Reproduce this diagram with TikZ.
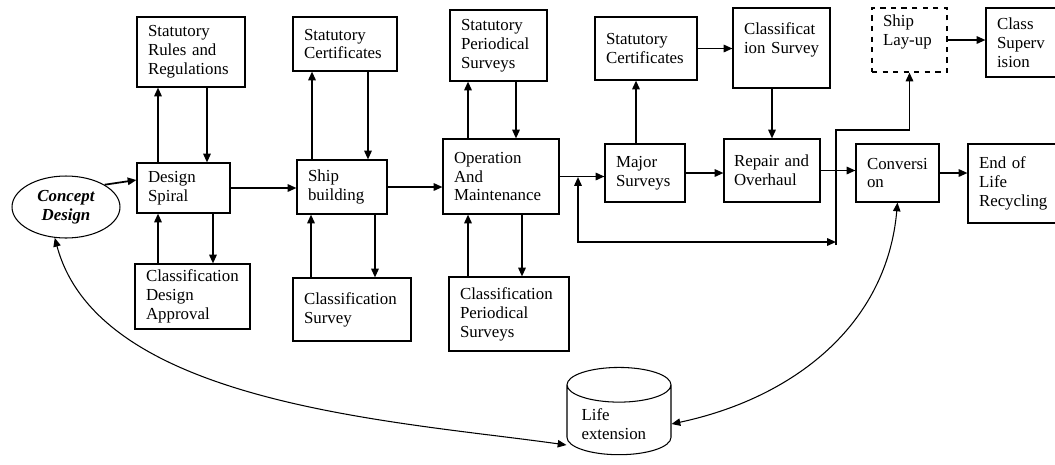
\documentclass[tikz,border=0pt]{standalone}
\usepackage{fontspec}
\setmainfont{Liberation Serif}
\usetikzlibrary{shapes.geometric,arrows.meta}

\tikzset{
  blk/.style={draw, rectangle, line width=0.6pt, align=left, inner xsep=0.22cm, inner ysep=0pt,
    font=\rmfamily\fontsize{9.6}{10.8}\selectfont},
  flow/.style={->, line width=1pt},
  lifelink/.style={<->, line width=0.6pt},
}

\begin{document}
\begin{tikzpicture}[>={Triangle[length=5pt,width=4.2pt]}, x=0.02cm, y=-0.02cm]
\useasboundingbox (0,0) rectangle (1055,464);
% upper row
\node[blk, minimum width=2.16cm, minimum height=1.4cm, text width=1.72cm] (rules) at (191,52) {Statutory\\Rules and\\Regulations};
\node[blk, minimum width=2.08cm, minimum height=1.08cm, text width=1.64cm] (scert1) at (345,44) {Statutory\\Certificates};
\node[blk, minimum width=1.94cm, minimum height=1.42cm, text width=1.5cm] (speriod) at (498.5,45.5) {Statutory\\Periodical\\Surveys};
\node[blk, minimum width=2.04cm, minimum height=1.26cm, text width=1.6cm] (scert2) at (646,48.5) {Statutory\\Certificates};
\node[blk, minimum width=1.94cm, minimum height=1.6cm, text width=1.5cm] (csurvtop) at (781.5,48) {Classificat\\ion Survey\\~};
\node[blk, dashed, minimum width=1.5cm, minimum height=1.28cm, text width=1.06cm] (layup) at (909.5,40) {Ship\\Lay-up\\~};
\node[blk, minimum width=1.58cm, minimum height=1.38cm, text width=1.14cm] (csuper) at (1025.5,42.5) {Class\\Superv\\ision};
% middle row
\node[draw, ellipse, line width=0.6pt, minimum width=2.16cm, minimum height=1.24cm, inner sep=0pt, align=center,
  font=\rmfamily\fontsize{9.6}{10.8}\selectfont\bfseries\itshape] (concept) at (66,207) {Concept\\Design};
\node[blk, minimum width=1.86cm, minimum height=1.0cm, text width=1.42cm] (spiral) at (183.5,188) {Design\\Spiral};
\node[blk, minimum width=1.8cm, minimum height=1.08cm, text width=1.36cm] (shipb) at (342,187) {Ship\\building};
\node[blk, minimum width=2.32cm, minimum height=1.5cm, text width=1.88cm] (opm) at (501,176.5) {Operation\\And\\Maintenance};
\node[blk, minimum width=1.6cm, minimum height=1.16cm, text width=1.16cm] (major) at (645,173) {Major\\Surveys};
\node[blk, inner xsep=0.2cm, minimum width=1.92cm, minimum height=1.26cm, text width=1.52cm] (repair) at (772,170.5) {Repair and\\Overhaul\\[3pt]};
\node[blk, minimum width=1.66cm, minimum height=1.16cm, text width=1.22cm] (conv) at (897.5,173) {Conversi\\on\\[1pt]};
\node[blk, minimum width=1.94cm, minimum height=1.58cm, text width=1.5cm] (eol) at (1016.5,183.5) {End of\\Life\\Recycling};
% lower row
\node[blk, minimum width=2.3cm, minimum height=1.3cm, text width=1.86cm] (cda) at (192.5,296.5) {Classification\\Design\\Approval};
\node[blk, minimum width=2.36cm, minimum height=1.26cm, text width=1.92cm] (csurvbot) at (352,309.5) {Classification\\Survey\\[3pt]};
\node[blk, minimum width=2.4cm, minimum height=1.48cm, text width=1.96cm] (cps) at (509,314) {Classification\\Periodical\\Surveys};
\node[draw, cylinder, shape border rotate=90, aspect=0.4, line width=0.6pt, minimum width=2.08cm, minimum height=1.56cm,
  text width=1.5cm, align=left, font=\rmfamily\fontsize{9.6}{10.8}\selectfont] (life) at (619,424) {Life\\extension};

% main flow
\draw[flow] (concept.30) -- ([yshift=0.16cm]spiral.west);
\draw[flow] (spiral.east) -- (spiral.east -| shipb.west);
\draw[flow] (shipb.east) -- (shipb.east -| opm.west);
\draw[flow] (opm.east) -- (opm.east -| major.west);
\draw[flow] (major.east) -- (major.east -| repair.west);
\draw[flow] (repair.east) -- (repair.east -| conv.west);
\draw[flow] (conv.east) -- (conv.east -| eol.west);
\draw[flow] (layup.east) -- (layup.east -| csuper.west);
\draw[flow] (scert2.east) -- (scert2.east -| csurvtop.west);
\draw[flow] (repair.north |- csurvtop.south) -- (repair.north);
\draw[flow] ([xshift=-0.18cm]major.north) -- ([xshift=-0.18cm]major.north |- scert2.south);

% up and down
\draw[flow] ([xshift=-0.51cm]spiral.north) -- ([xshift=-0.51cm]spiral.north |- rules.south);
\draw[flow] ([xshift=0.47cm]spiral.north |- rules.south) -- ([xshift=0.47cm]spiral.north);
\draw[flow] ([xshift=-0.51cm]spiral.south |- cda.north) -- ([xshift=-0.51cm]spiral.south);
\draw[flow] ([xshift=0.59cm]spiral.south) -- ([xshift=0.59cm]spiral.south |- cda.north);
\draw[flow] ([xshift=-0.6cm]shipb.north) -- ([xshift=-0.6cm]shipb.north |- scert1.south);
\draw[flow] ([xshift=0.52cm]shipb.north |- scert1.south) -- ([xshift=0.52cm]shipb.north);
\draw[flow] ([xshift=-0.62cm]shipb.south |- csurvbot.north) -- ([xshift=-0.62cm]shipb.south);
\draw[flow] ([xshift=0.66cm]shipb.south) -- ([xshift=0.66cm]shipb.south |- csurvbot.north);
\draw[flow] ([xshift=-0.66cm]opm.north) -- ([xshift=-0.66cm]opm.north |- speriod.south);
\draw[flow] ([xshift=0.3cm]opm.north |- speriod.south) -- ([xshift=0.3cm]opm.north);
\draw[flow] ([xshift=-0.66cm]opm.south |- cps.north) -- ([xshift=-0.66cm]opm.south);
\draw[flow] ([xshift=0.42cm]opm.south) -- ([xshift=0.42cm]opm.south |- cps.north);

% loop back and lay-up
\coordinate (jopm) at (578,177);
\coordinate (jbot) at (836,242);
\coordinate (jtop) at (836,130);
\draw[<->, line width=1pt] (jopm) |- (jbot);
\draw[flow] ([yshift=-0.06cm]jbot) -- (jtop) -| (layup.south);

% life extension
\draw[lifelink] (concept.250) to[out=-75, in=172, looseness=0.8] ([yshift=-0.42cm]life.west);
\draw[lifelink] (conv.south) to[out=-95, in=12] (life.east);
\end{tikzpicture}
\end{document}
